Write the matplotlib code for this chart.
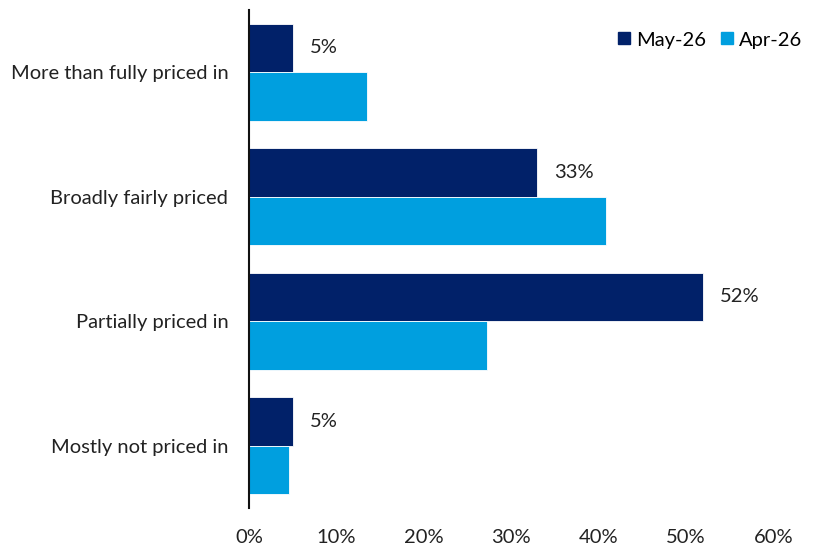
import numpy as np
import matplotlib.pyplot as plt
from matplotlib.lines import Line2D

plt.rcParams['font.family'] = ['Lato', 'DejaVu Sans']

cats = ["More than fully priced in", "Broadly fairly priced", "Partially priced in", "Mostly not priced in"]
may26 = [5, 33, 52, 5]
apr26 = [13.5, 40.9, 27.2, 4.6]
may_labels = ["5%", "33%", "52%", "5%"]

c_may = "#012169"
c_apr = "#009FDF"
fs = 14.5

fig = plt.figure(figsize=(8.14, 5.52), dpi=100)
ax = fig.add_axes([0.306, 0.080, 0.644, 0.902])

y = np.arange(len(cats))
h = 0.39
ax.barh(y - h/2, may26, height=h, color=c_may, edgecolor="white", linewidth=0.6)
ax.barh(y + h/2, apr26, height=h, color=c_apr, edgecolor="white", linewidth=0.6)

for yi, v, lab in zip(y, may26, may_labels):
    ax.annotate(lab, (v, yi - h/2), xytext=(12, 0), textcoords="offset points",
                va="center", ha="left", fontsize=fs, color="#222222")

ax.set_ylim(3.5, -0.5)
ax.set_xlim(0, 60)
ax.set_xticks(range(0, 61, 10))
ax.set_xticklabels([f"{t}%" for t in range(0, 61, 10)])
ax.set_yticks(y)
ax.set_yticklabels(cats)
ax.tick_params(axis="both", length=0, labelsize=fs, colors="#222222")
ax.tick_params(axis="x", pad=15)
ax.tick_params(axis="y", pad=15)
for s in ["top", "right", "bottom"]:
    ax.spines[s].set_visible(False)
ax.spines["left"].set_linewidth(1.5)
ax.spines["left"].set_color("#111111")

handles = [Line2D([], [], marker="s", ls="", color=c_may, markersize=8),
           Line2D([], [], marker="s", ls="", color=c_apr, markersize=8)]
fig.legend(handles, ["May-26", "Apr-26"], loc="upper right", bbox_to_anchor=(1.0, 0.965),
           ncol=2, frameon=False, fontsize=fs, handletextpad=0.1, columnspacing=0.5,
           handlelength=1.0, borderaxespad=0.2)

fig.savefig("out.png", dpi=100)
